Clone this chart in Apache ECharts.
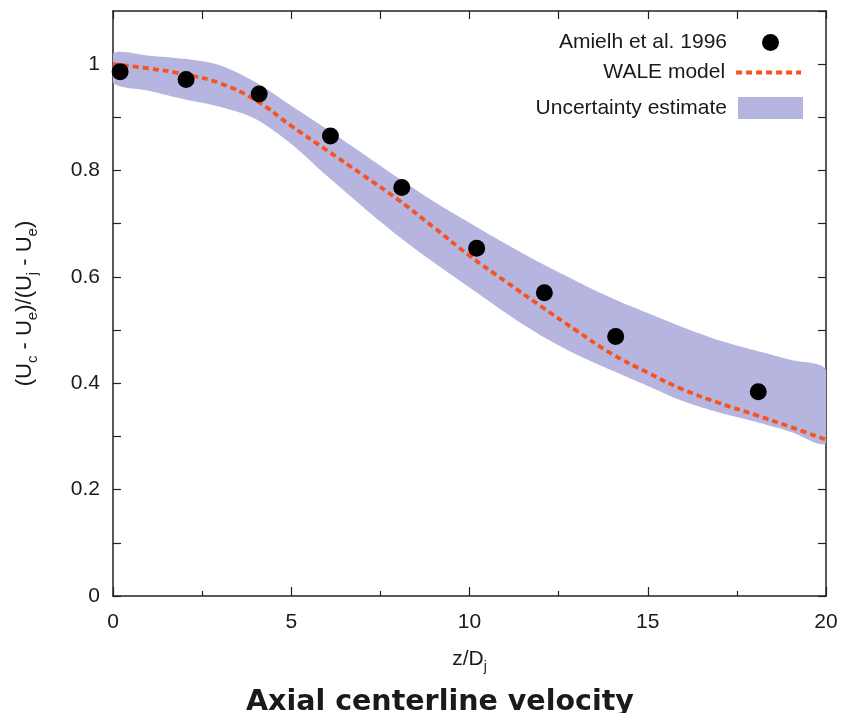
<!DOCTYPE html>
<html>
<head>
<meta charset="utf-8">
<script src="https://cdn.jsdelivr.net/npm/echarts@6/dist/echarts.min.js"></script>
<style>
  html, body { margin: 0; padding: 0; background: #fff; }
  #chart { width: 842px; height: 713px; }
</style>
</head>
<body>
<div id="chart"></div>
<script>
// z/Dj grid for the model curve and the uncertainty band
var zGrid = [0, 1, 2, 3, 4, 5, 6, 7, 8, 9, 10, 11, 12, 13, 14, 15, 16, 17, 18, 19, 20];
var waleModel = [1.000, 0.992, 0.981, 0.964, 0.932, 0.884, 0.838, 0.792, 0.745, 0.693, 0.640, 0.592, 0.545, 0.499, 0.455, 0.420, 0.388, 0.363, 0.341, 0.318, 0.294];
var bandUpper = [1.020, 1.016, 1.010, 0.998, 0.966, 0.922, 0.878, 0.832, 0.786, 0.742, 0.702, 0.663, 0.626, 0.592, 0.560, 0.532, 0.505, 0.481, 0.462, 0.444, 0.425];
var bandLower = [0.965, 0.950, 0.934, 0.920, 0.897, 0.850, 0.790, 0.732, 0.677, 0.627, 0.580, 0.533, 0.490, 0.454, 0.424, 0.395, 0.366, 0.345, 0.328, 0.309, 0.288];

// Amielh et al. 1996 measurements
var amielhZ = [0.2, 2.05, 4.1, 6.1, 8.1, 10.2, 12.1, 14.1, 18.1];
var amielhU = [0.986, 0.971, 0.944, 0.865, 0.768, 0.654, 0.570, 0.488, 0.384];

var xTicks = ['0', '5', '10', '15', '20'];
var yTicks = ['0', '0.2', '0.4', '0.6', '0.8', '1'];

var axisColor = '#222';
var textColor = '#1a1a1a';
var bandColor = '#b5b5df';
var waleColor = '#f8531f';
var waleLine = { color: waleColor, width: 3.8, type: [6, 4] };

function pairs(xs, ys) {
    return xs.map(function (x, i) { return [x, ys[i]]; });
}

var chart = echarts.init(document.getElementById('chart'), null, { renderer: 'canvas' });

var legendBase = {
    orient: 'vertical',
    right: 39,
    padding: 0,
    align: 'right',
    itemWidth: 65,
    textStyle: {
        fontFamily: 'Liberation Sans',
        fontSize: 21,
        color: textColor,
        padding: [0, 6, 0, 0]
    },
    selectedMode: false
};

// band polygon: upper edge left->right, lower edge right->left
function renderBand(params, api) {
    if (params.dataIndex !== 0) return null;
    var pts = [];
    for (var i = 0; i < zGrid.length; i++) pts.push(api.coord([zGrid[i], bandUpper[i]]));
    for (var j = zGrid.length - 1; j >= 0; j--) pts.push(api.coord([zGrid[j], bandLower[j]]));
    return {
        type: 'polygon',
        shape: { points: pts, smooth: 0.3 },
        style: { fill: bandColor }
    };
}

function frameAxis(extra) {
    return Object.assign({
        type: 'value',
        axisLine: { onZero: false, lineStyle: { color: axisColor, width: 1.5 } },
        axisTick: { inside: true, length: 8, lineStyle: { color: axisColor, width: 1.2 } },
        axisLabel: { show: false },
        splitLine: { show: false }
    }, extra);
}

option = {
    animation: false,
    backgroundColor: '#fff',
    title: {
        text: 'Axial centerline velocity',
        left: 246,
        top: 688,
        padding: 0,
        textStyle: {
            fontFamily: 'DejaVu Sans',
            fontWeight: 'bold',
            fontSize: 28.5,
            color: textColor
        }
    },
    legend: [
        Object.assign({}, legendBase, {
            top: 32, itemHeight: 17, itemWidth: 17, right: 63,
            textStyle: Object.assign({}, legendBase.textStyle, { padding: [0, 30, 0, 0] }),
            data: [{ name: 'Amielh et al. 1996', icon: 'circle' }]
        }),
        Object.assign({}, legendBase, {
            top: 62, itemHeight: 20,
            data: [{ name: 'WALE model', itemStyle: { opacity: 0 }, lineStyle: waleLine }]
        }),
        Object.assign({}, legendBase, {
            top: 97, itemHeight: 22,
            data: [{ name: 'Uncertainty estimate', icon: 'rect' }]
        })
    ],
    grid: { left: 113, right: 16, top: 11, bottom: 117 },
    xAxis: [
        frameAxis({
            min: 0, max: 20, interval: 5,
            name: 'z/D{s|j}',
            nameLocation: 'middle',
            nameGap: 48,
            nameTextStyle: {
                fontFamily: 'Liberation Sans', fontSize: 21, color: textColor, lineHeight: 30,
                rich: { s: { fontFamily: 'Liberation Sans', fontSize: 14, lineHeight: 14, verticalAlign: 'bottom', color: textColor } }
            },
            axisTick: { inside: true, length: 9, lineStyle: { color: axisColor, width: 1.2 } },
            minorTick: { show: true, splitNumber: 2, length: 5, lineStyle: { color: axisColor, width: 1.2 } },
            axisLabel: {
                margin: 16, fontFamily: 'Liberation Sans', fontSize: 21, color: textColor,
                formatter: function (v) { return xTicks[Math.round(v / 5)]; }
            }
        }),
        frameAxis({ position: 'top', min: 0, max: 20, interval: 2.5 })
    ],
    yAxis: [
        frameAxis({
            min: 0, max: 1.1, interval: 0.1,
            name: '(U{s|c} - U{s|e})/(U{s|j} - U{s|e})',
            nameLocation: 'middle',
            nameGap: 73,
            nameTextStyle: {
                fontFamily: 'Liberation Sans', fontSize: 22, color: textColor, lineHeight: 30,
                rich: { s: { fontFamily: 'Liberation Sans', fontSize: 15, lineHeight: 15, verticalAlign: 'bottom', color: textColor } }
            },
            axisLabel: {
                margin: 13, fontFamily: 'Liberation Sans', fontSize: 21, color: textColor,
                showMaxLabel: false,
                formatter: function (v) {
                    var n = Math.round(v * 10);
                    return (n % 2 === 0 && n <= 10) ? yTicks[n / 2] : '';
                }
            }
        }),
        frameAxis({ position: 'right', min: 0, max: 1.1, interval: 0.1 })
    ],
    series: [
        {
            name: 'Uncertainty estimate',
            type: 'custom',
            renderItem: renderBand,
            clip: true,
            silent: true,
            itemStyle: { color: bandColor },
            z: 1,
            data: pairs(zGrid, bandUpper)
        },
        {
            name: 'WALE model',
            type: 'line',
            smooth: true,
            symbol: 'none',
            color: waleColor,
            lineStyle: waleLine,
            z: 3,
            data: pairs(zGrid, waleModel)
        },
        {
            name: 'Amielh et al. 1996',
            type: 'scatter',
            symbol: 'circle',
            symbolSize: 17,
            itemStyle: { color: '#000', opacity: 1 },
            z: 4,
            data: pairs(amielhZ, amielhU)
        }
    ]
};

chart.setOption(option);
</script>
</body>
</html>
